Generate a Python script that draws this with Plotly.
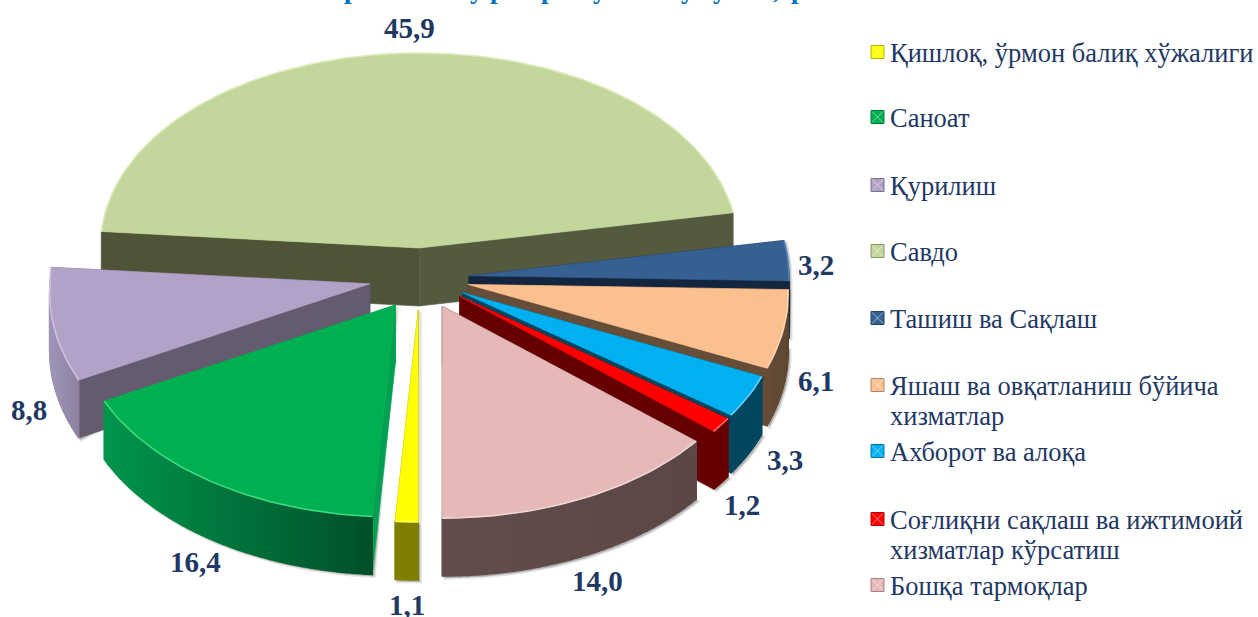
import math
import plotly.graph_objects as go

# ---- data ----
categories = ["Қишлоқ, ўрмон балиқ хўжалиги", "Саноат", "Қурилиш", "Савдо", "Ташиш ва Сақлаш",
              "Яшаш ва овқатланиш бўйича|хизматлар", "Ахборот ва алоқа",
              "Соғлиқни сақлаш ва ижтимоий|хизматлар кўрсатиш", "Бошқа тармоқлар"]
values = [1.1, 16.4, 8.8, 45.9, 3.2, 6.1, 3.3, 1.2, 14.0]

# ---- styles ----
top_colors = ["#FFFF00", "#00B050", "#B3A2C7", "#C3D69B", "#376092", "#FAC090", "#00B0F0", "#FF0000", "#E6B9B8"]
rim_colors = ["#FFFF66", "#3DDC84", "#CFC3E0", "#DCEBB8", "#5A86BC", "#FFD8B0", "#66D4FF", "#FF6666", "#F3D6D5"]
wall_hi = ["#7F7F00", "#00954C", "#A094B8", "#545A40", "#14263F", "#664D38", "#00465F", "#660000", "#614D4B"]
wall_lo = ["#7F7F00", "#004F28", "#8E829F", "#545A40", "#14263F", "#5E4733", "#00465F", "#660000", "#5B4846"]
face_a = ["#7F7F00", "#00A052", "#655B6F", "#4F5439", "#14263F", "#664D38", "#00465F", "#660000", "#5C4A48"]
face_b = ["#7F7F00", "#00A052", "#655B6F", "#545A40", "#14263F", "#664D38", "#00465F", "#660000", "#5C4A48"]
draw_order = [3, 4, 5, 6, 7, 8, 2, 1, 0]
nudge_x = [1, 4, 0, 2.5, 0, 0, 0, 1, 2]
nudge_y = [2, 2, 0, 0, 0, 0, 0, 0, 1]
label_xy = [(407, 605), (195, 562), (29, 410), (409, 28), (816, 265), (816, 381), (785, 460), (742, 505), (597, 581)]
legend_y = [53, 118, 186, 252, 319, 386, 452, 520, 586]
LINE_GAP = 30
LEGEND_KEY_X, LEGEND_TEXT_X = 877.5, 888
TITLE_COLOR, TEXT_COLOR = "#0070C0", "#1F3864"
title_bits = [(351, "р"), (477, "у"), (497, "р"), (548, "р"), (600, "у"), (688, "у"), (720, "у"), (776, ","), (798, "р")]

# ---- projection of the exploded pie ----
CX, CY, EX, EY, DEPTH = 419, 278, 50, 30, 58
START = 180.0


def rx(c, i):
    return (319 if i == 3 else 320) + 15 * min(1, max(0, -c))


def ry(c):
    return 203 - 8 * c if c >= 0 else min(212, 203 + 20 * -c)


def rim(ax, ay, deg, i):
    s, c = math.sin(math.radians(deg)), math.cos(math.radians(deg))
    return ax + rx(c, i) * s, ay - ry(c) * c


def mix(a, b, t):
    pa = [int(a[i:i + 2], 16) for i in (1, 3, 5)]
    pb = [int(b[i:i + 2], 16) for i in (1, 3, 5)]
    return "rgb(%d,%d,%d)" % tuple(round(x + (y - x) * t) for x, y in zip(pa, pb))


fig = go.Figure()


def poly(xs, ys, fill, line=None, width=0.6):
    fig.add_trace(go.Scatter(x=xs, y=ys, mode="lines", fill="toself", fillcolor=fill,
                             line=dict(color=line or fill, width=width),
                             hoverinfo="skip", showlegend=False))


total = sum(values)
angles, cur = [], START
for v in values:
    angles.append((cur, cur + v / total * 360))
    cur += v / total * 360

for i in draw_order:
    a0, a1 = angles[i]
    mid = math.radians((a0 + a1) / 2)
    ax = CX + EX * math.sin(mid) + nudge_x[i]
    ay = CY - EY * math.cos(mid) + nudge_y[i]
    n = max(3, int((a1 - a0) / 1.5))
    degs = [a0 + (a1 - a0) * k / n for k in range(n + 1)]
    pts = [rim(ax, ay, d, i) for d in degs]
    # soft shadow
    if i != 3:
        allx = [ax] + [p[0] for p in pts] + [p[0] for p in reversed(pts)]
        ally = [ay] + [p[1] for p in pts] + [p[1] + DEPTH for p in reversed(pts)]
        poly([x + 2 for x in allx + allx[:1]], [y + 2 for y in ally + ally[:1]], "rgba(0,0,0,0.22)",
             line="rgba(0,0,0,0.10)", width=3)
    # cut faces
    for (d, col) in ((a0, face_a[i]), (a1, face_b[i])):
        px, py = rim(ax, ay, d, i)
        poly([ax, px, px, ax, ax], [ay, py, py + DEPTH, ay + DEPTH, ay], col)
    # outer wall, only the part that faces the viewer, in strips for the gradient
    xs_sorted = [p[0] for p in pts]
    lo, hi = min(xs_sorted), max(xs_sorted)
    for k in range(n):
        if math.cos(math.radians((degs[k] + degs[k + 1]) / 2)) > 0.03:
            continue
        p, q = pts[k], pts[k + 1]
        t = 0 if hi == lo else ((p[0] + q[0]) / 2 - lo) / (hi - lo)
        poly([p[0], q[0], q[0], p[0], p[0]], [p[1], q[1], q[1] + DEPTH, p[1] + DEPTH, p[1]],
             mix(wall_hi[i], wall_lo[i], t), width=1.4)
    # top
    poly([ax] + [p[0] for p in pts] + [ax], [ay] + [p[1] for p in pts] + [ay], top_colors[i])
    fig.add_trace(go.Scatter(x=[p[0] for p in pts], y=[p[1] for p in pts], mode="lines",
                             line=dict(color=rim_colors[i], width=1.5), hoverinfo="skip", showlegend=False))

# legend keys
for i, c in enumerate(categories):
    ky = legend_y[i] - 1
    fig.add_trace(go.Scatter(x=[LEGEND_KEY_X], y=[ky], mode="markers",
                             marker=dict(symbol="square", size=13, color=top_colors[i],
                                         line=dict(color=mix(top_colors[i], "#000000", 0.3), width=1)),
                             hoverinfo="skip", showlegend=False))
    fig.add_trace(go.Scatter(x=[LEGEND_KEY_X], y=[ky], mode="markers",
                             marker=dict(symbol="x-thin", size=11, color="rgba(255,255,255,0.5)",
                                         line=dict(color="rgba(255,255,255,0.5)", width=1)),
                             hoverinfo="skip", showlegend=False))

ann = []
for i, v in enumerate(values):
    ann.append(dict(x=label_xy[i][0], y=label_xy[i][1], text=("%.1f" % v).replace(".", ","), showarrow=False,
                    font=dict(family="Liberation Serif", size=29, color=TEXT_COLOR, weight="bold"),
                    xanchor="center", yanchor="middle"))
for i, c in enumerate(categories):
    for j, part in enumerate(c.split("|")):
        ann.append(dict(x=LEGEND_TEXT_X, y=legend_y[i] + j * LINE_GAP, text=part, showarrow=False, align="left",
                        font=dict(family="Liberation Serif", size=26.5, color=TEXT_COLOR),
                        xanchor="left", yanchor="middle"))
for x, ch in title_bits:
    ann.append(dict(x=x, y=0, yshift=11, text=ch, showarrow=False, xanchor="center", yanchor="middle",
                    font=dict(family="Liberation Serif", size=27, color=TITLE_COLOR, weight="bold")))

fig.update_layout(width=1258, height=617, margin=dict(l=0, r=0, t=0, b=0), paper_bgcolor="white",
                  plot_bgcolor="white", annotations=ann, showlegend=False,
                  xaxis=dict(range=[0, 1258], visible=False, fixedrange=True),
                  yaxis=dict(range=[617, 0], visible=False, fixedrange=True))
fig.write_html("out.html", config=dict(displayModeBar=False),
               post_script="document.body.style.margin='0';")
